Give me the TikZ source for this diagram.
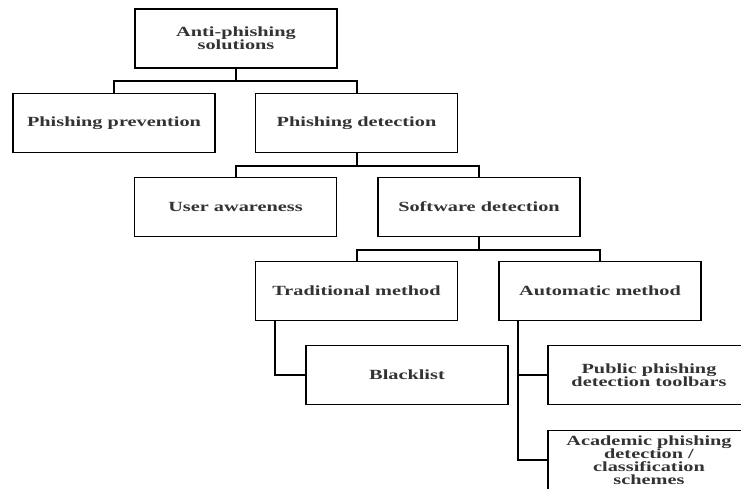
\documentclass[tikz,border=0pt]{standalone}
\usepackage{fontspec}
\setmainfont{Liberation Serif}[FakeStretch=1.45]
\usepackage{tikz}
\tikzset{>=latex}
\usetikzlibrary{calc,positioning}
\tikzset{
  box/.style={draw=black, line width=1.8pt, minimum width=202pt, minimum height=59pt,
    align=center, inner sep=2pt, text=black!80, font=\fontsize{14}{13}\selectfont\bfseries},
  link/.style={draw=black, line width=2pt}
}

\begin{document}
\begin{tikzpicture}[x=1pt, y=-1pt]
                        \useasboundingbox (0,0) rectangle (741,488);
                        \clip (0,0) rectangle (741,488);

                        \node[box] (root) at (236,38.5) {Anti-phishing\\solutions};

                        \node[box] (prev) at (114,123) {Phishing prevention};
                        \node[box] (det) at (356.5,123) {Phishing detection};

                        \node[box] (user) at (235.5,207) {User awareness};
                        \node[box] (soft) at (479,207) {Software detection};

                        \node[box] (trad) at (356.5,291) {Traditional method};
                        \node[box] (auto) at (600,291) {Automatic method};

                        \node[box] (black) at (407,375) {Blacklist};
                        \node[box] (pub) at (649,375) {Public phishing\\detection toolbars};
                        \node[box] (acad) at (649,460) {Academic phishing\\detection /\\classification\\schemes};

                        \draw[link] (root.south) -- ++(0,12.5) -| (prev.north);
                        \draw[link] (root.south) -- ++(0,12.5) -| (det.north);

                        \draw[link] (det.south) -- ++(0,12.5) -| (user.north);
                        \draw[link] (det.south) -- ++(0,12.5) -| (soft.north);

                        \draw[link] (soft.south) -- ++(0,12.5) -| (trad.north);
                        \draw[link] (soft.south) -- ++(0,12.5) -| (auto.north);

                        \draw[link] ([xshift=20pt]trad.south west) |- (black.west);
                        \draw[link] ([xshift=20pt]auto.south west) |- (pub.west);
                        \draw[link] ([xshift=20pt]auto.south west) |- (acad.west);
                    \end{tikzpicture}
\end{document}
